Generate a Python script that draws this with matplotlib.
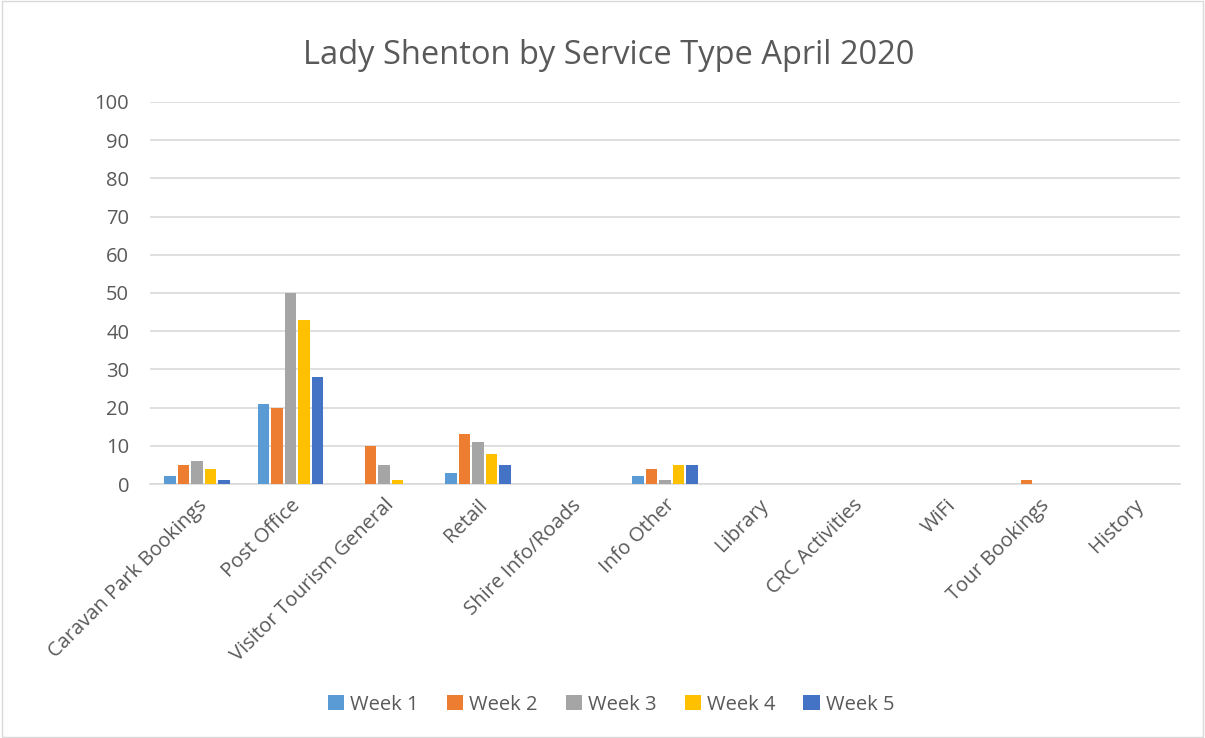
import matplotlib
matplotlib.use("Agg")
import matplotlib.pyplot as plt
import numpy as np
from matplotlib.patches import Rectangle

categories = ["Caravan Park Bookings", "Post Office", "Visitor Tourism General", "Retail",
              "Shire Info/Roads", "Info Other", "Library", "CRC Activities", "WiFi",
              "Tour Bookings", "History"]
series_names = ["Week 1", "Week 2", "Week 3", "Week 4", "Week 5"]
week1 = [2, 21, 0, 3, 0, 2, 0, 0, 0, 0, 0]
week2 = [5, 20, 10, 13, 0, 4, 0, 0, 0, 1, 0]
week3 = [6, 50, 5, 11, 0, 1, 0, 0, 0, 0, 0]
week4 = [4, 43, 1, 8, 0, 5, 0, 0, 0, 0, 0]
week5 = [1, 28, 0, 5, 0, 5, 0, 0, 0, 0, 0]
colors = ["#5B9BD5", "#ED7D31", "#A5A5A5", "#FFC000", "#4472C4"]
yticks = list(range(0, 101, 10))

plt.rcParams['font.family'] = ['Open Sans', 'DejaVu Sans']
txt = "#595959"

fig = plt.figure(figsize=(12.05, 7.38), dpi=100)
fig.patches.append(Rectangle((0.002, 0.002), 0.996, 0.996, transform=fig.transFigure,
                             fill=False, edgecolor="#d9d9d9", linewidth=1))
ax = fig.add_axes([0.1245, 0.344, 0.855, 0.518])

data = [week1, week2, week3, week4, week5]
x = np.arange(len(categories))
n = len(data)
bw = 0.72 / n
for i, (vals, c, name) in enumerate(zip(data, colors, series_names)):
    ax.bar(x + (i - (n - 1) / 2) * bw, vals, width=bw * 0.85, color=c, label=name, zorder=3)

ax.set_xlim(-0.5, len(categories) - 0.5)
ax.set_ylim(0, 100)
ax.set_yticks(yticks)
ax.set_yticklabels([str(v) for v in yticks], fontsize=14.5, color=txt)
ax.yaxis.grid(True, color="#d9d9d9", linewidth=1.2, zorder=0)
ax.set_axisbelow(True)
for s in ["top", "right", "left"]:
    ax.spines[s].set_visible(False)
ax.spines["bottom"].set_color("#d9d9d9")
ax.spines["bottom"].set_linewidth(1.2)
ax.tick_params(axis="both", length=0)
ax.tick_params(axis="y", pad=15)
ax.set_xticks(x)
ax.set_xticklabels(categories, rotation=45, ha="right", rotation_mode="anchor",
                   fontsize=14.5, color=txt)
ax.tick_params(axis="x", pad=8)

fig.text(0.505, 0.925, "Lady Shenton by Service Type April 2020", ha="center", va="center",
         fontsize=23.5, color=txt)

leg = fig.legend(loc="center", bbox_to_anchor=(0.507, 0.045), ncol=5, frameon=False,
                 fontsize=14.5, handlelength=0.8, handleheight=0.8, handletextpad=0.3,
                 columnspacing=1.4, labelcolor=txt)

fig.savefig("out.png", dpi=100)
